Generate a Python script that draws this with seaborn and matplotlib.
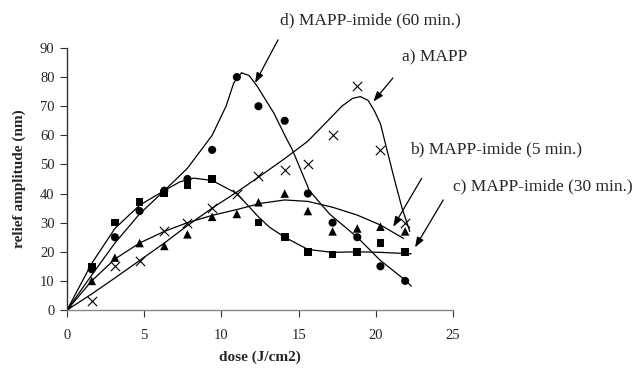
import numpy as np
import pandas as pd
import matplotlib
matplotlib.use("Agg")
import matplotlib.pyplot as plt
import seaborn as sns

# measured points (dose in J/cm2, relief amplitude in nm)
dose = [0, 1.6, 3.1, 4.7, 6.3, 7.8, 9.4, 11.0, 12.4, 14.1, 15.6, 17.2, 18.8, 20.3, 21.9]
mapp = [0, 3, 15, 17, 27, 30, 35, 40, 46, 48, 50, 60, 77, 55, 30]
imide_5 = [0, 10, 18, 23, 22, 26, 32, 33, 37, 40, 34, 27, 28, 28.6, 27]
imide_30 = [0, 15, 30, 37, 40, 43, 45, None, 30, 25, 20, 19, 20, 23, 20]
imide_60 = [0, 14, 25, 34, 41, 45, 55, 80, 70, 65, 40, 30, 25, 15, 10]

# hand-drawn trend curves
curve_a_x = [0, 1.6, 3.1, 4.7, 6.3, 7.8, 9.4, 11, 12.5, 14.1, 15.6, 16.8, 17.8, 18.5, 19, 19.5, 19.9, 20.3, 20.7, 21.2, 21.7, 22.2]
curve_a_y = [0, 5.5, 11, 17, 23, 29, 35, 40.5, 46, 52, 58, 64.5, 70, 72.7, 73.3, 72, 68.5, 64, 55.5, 45, 35, 27]
curve_b_x = [0, 1.6, 3.1, 4.7, 6.3, 7.8, 9.4, 11, 12.5, 14.1, 15.6, 17.2, 18.8, 20.3, 21.8]
curve_b_y = [0, 10, 17.5, 23, 27, 30, 32.5, 34.5, 36.6, 37.8, 37.3, 35.3, 32.6, 29.2, 24.6]
curve_c_x = [0, 1.6, 3.1, 4.7, 6.3, 7.3, 8.2, 9.4, 11, 12.4, 13.1, 14.1, 15.6, 17.2, 18.8, 20.3, 22.3]
curve_c_y = [0, 16, 28, 36, 41, 44, 45.3, 44.5, 40, 32, 28.5, 25, 20.8, 19.8, 20, 19.8, 19.3]
curve_d_x = [0, 1.6, 3.1, 4.7, 6.3, 7.8, 9.4, 10.3, 10.8, 11.3, 11.8, 12.3, 13.4, 14.2, 14.6, 15.7, 17, 17.9, 18.8, 20.3, 21.9, 22.3]
curve_d_y = [0, 12, 23, 33, 41, 48.7, 60, 70, 78, 81.5, 80.5, 77, 67.6, 59, 55, 41, 33, 29, 25, 17, 10.3, 8.2]

labels = ["d) MAPP-imide (60 min.)", "a) MAPP", "b) MAPP-imide (5 min.)", "c) MAPP-imide (30 min.)"]
label_pos = [(13.8, 99.6), (21.7, 86.6), (22.2, 55.0), (25.0, 42.4)]
arrow_from = [(13.67, 92.8), (21.11, 79.7), (22.97, 45.2), (24.37, 37.8)]
arrow_to = [(12.18, 78.0), (19.84, 71.6), (21.13, 28.6), (22.54, 21.5)]

sns.set_style("ticks")
plt.rcParams['font.family'] = ['Liberation Serif', 'DejaVu Serif']

fig = plt.figure(figsize=(6.39, 3.68), dpi=100)
ax = fig.add_axes([0.1049, 0.1576, 0.604, 0.712])

for cx, cy in [(curve_a_x, curve_a_y), (curve_b_x, curve_b_y),
               (curve_c_x, curve_c_y), (curve_d_x, curve_d_y)]:
    sns.lineplot(x=cx, y=cy, ax=ax, color="black", linewidth=0.9, sort=False)

df = pd.DataFrame({"dose": dose, "a": mapp, "b": imide_5, "c": imide_30, "d": imide_60})
pts = df[df["dose"] > 0]

sns.scatterplot(x=df["dose"], y=df["a"], ax=ax, marker="x", color="black", s=45, linewidth=0.8)
sns.scatterplot(x=pts["dose"], y=pts["b"], ax=ax, marker="^", color="black", s=38, edgecolor="none")
sns.scatterplot(x=pts["dose"], y=pts["c"], ax=ax, marker="s", color="black", s=30, edgecolor="none")
sns.scatterplot(x=pts["dose"], y=pts["d"], ax=ax, marker="o", color="black", s=34, edgecolor="none")

ax.set_xlim(0, 25)
ax.set_ylim(0, 90)
ax.set_xticks(range(0, 26, 5))
ax.set_yticks(range(0, 91, 10))
ax.tick_params(axis="both", labelsize=10.5, length=5, width=0.8, color="#333333")
ax.tick_params(axis="y", pad=4)
ax.tick_params(axis="x", pad=9)
sns.despine(ax=ax)
ax.spines["left"].set_color("#333333")
ax.spines["bottom"].set_color("#888888")
ax.spines["left"].set_linewidth(1.0)
ax.spines["bottom"].set_linewidth(1.0)

ax.set_xlabel("dose (J/cm2)", fontsize=11, fontweight="bold", labelpad=6)
ax.set_ylabel("relief amplitude (nm)", fontsize=11, fontweight="bold", labelpad=10)

for text, pos, start, end in zip(labels, label_pos, arrow_from, arrow_to):
    ax.text(pos[0], pos[1], text, fontsize=12.5, ha="left", va="center", clip_on=False)
    ax.annotate("", xy=end, xytext=start, annotation_clip=False,
                arrowprops=dict(arrowstyle="-|>,head_length=0.6,head_width=0.22",
                                color="black", lw=0.9, shrinkA=0, shrinkB=0))

fig.savefig("out.png", dpi=100)
